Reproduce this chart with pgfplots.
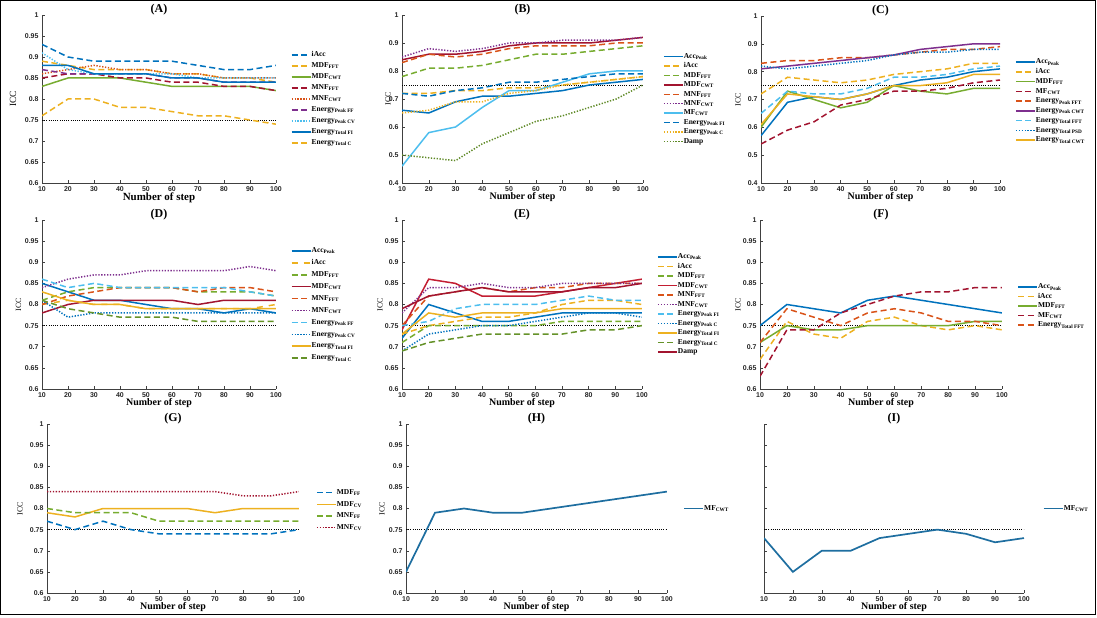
\documentclass[border=0pt]{standalone}
\usepackage{fontspec}
\setmainfont{Liberation Serif}
\setsansfont{Liberation Sans}
\usepackage{pgfplots}
\pgfplotsset{compat=1.18}

\definecolor{mblue}{RGB}{0,114,189}
\definecolor{morange}{RGB}{217,83,25}
\definecolor{myellow}{RGB}{237,177,32}
\definecolor{mpurple}{RGB}{126,47,142}
\definecolor{mgreen}{RGB}{119,172,48}
\definecolor{mcyan}{RGB}{77,190,238}
\definecolor{mdred}{RGB}{162,20,47}
\definecolor{mred}{RGB}{195,30,50}
\definecolor{steel}{RGB}{30,110,160}

\tikzset{
  ds/.style={dash pattern=on 6bp off 3.5bp},
  dt/.style={dash pattern=on 1.3bp off 1.6bp},
}

\pgfplotsset{
  icc/.style={
    scale only axis,
    axis lines=left,
    axis line style={-, draw=black!75, line width=0.5bp},
    tick style={draw=black!75, line width=0.5bp},
    tick align=inside,
    major tick length=2.5bp,
    xmin=10, xmax=100,
    xtick={10,20,30,40,50,60,70,80,90,100},
    /pgf/number format/assume math mode=true,
    ticklabel style={font=\fontsize{7}{8}\sffamily\bfseries, text=black!85},
    xlabel={Number of step},
    xlabel style={font=\fontsize{10}{11}\bfseries, at={(axis description cs:0.5,0)}, anchor=center, yshift=-14.5bp},
    ylabel={ICC},
    ylabel style={font=\fontsize{8}{9}\selectfont, anchor=center},
    title style={font=\fontsize{12}{13}\bfseries, at={(axis description cs:0.5,1)}, anchor=center, yshift=-1bp},
    legend cell align=left,
    legend style={draw=none, fill=none, at={(1.05,0.5)}, anchor=west,
      font=\fontsize{7.5}{8}\bfseries,
      nodes={inner sep=0.3bp, text height=5.5bp, text depth=2bp}},
    legend image code/.code={\draw[##1] (0bp,0bp) -- (19bp,0bp);},
    every axis plot/.append style={line width=1.5bp},
  },
  yA/.style={ymin=0.6, ymax=1, ytick={0.6,0.65,0.7,0.75,0.8,0.85,0.9,0.95,1}},
  yB/.style={ymin=0.4, ymax=1, ytick={0.4,0.5,0.6,0.7,0.8,0.9,1}},
  thr/.style={black, line width=0.9bp, dash pattern=on 1bp off 1.2bp, forget plot},
}

\begin{document}
\begin{tikzpicture}
\useasboundingbox (0,0) rectangle (1097bp,618bp);
\draw[line width=1bp] (0.5bp,3.5bp) rectangle (1095.5bp,617.5bp);

% ---------------- (A)
\begin{axis}[icc, yA, at={(42bp,435bp)}, width=234bp, height=168bp, title={(A)},
  xlabel style={font=\fontsize{11}{12}\bfseries},
  ylabel style={at={(axis description cs:-0.124,0.5)}, font=\fontsize{9.5}{10}\selectfont},
  legend style={row sep=2.9bp}]
\addplot[thr] coordinates {(10,0.75) (100,0.75)};
\addplot[mblue, ds] coordinates {(10,0.93) (20,0.90) (30,0.89) (40,0.89) (50,0.89) (60,0.89) (70,0.88) (80,0.87) (90,0.87) (100,0.88)};
\addlegendentry{iAcc}
\addplot[myellow, ds] coordinates {(10,0.89) (20,0.88) (30,0.87) (40,0.87) (50,0.87) (60,0.86) (70,0.86) (80,0.85) (90,0.85) (100,0.84)};
\addlegendentry{MDF\textsubscript{FFT}}
\addplot[mgreen] coordinates {(10,0.83) (20,0.85) (30,0.85) (40,0.85) (50,0.84) (60,0.83) (70,0.83) (80,0.83) (90,0.83) (100,0.82)};
\addlegendentry{MDF\textsubscript{CWT}}
\addplot[mdred, ds] coordinates {(10,0.85) (20,0.86) (30,0.86) (40,0.85) (50,0.85) (60,0.84) (70,0.84) (80,0.83) (90,0.83) (100,0.82)};
\addlegendentry{MNF\textsubscript{FFT}}
\addplot[morange, dt] coordinates {(10,0.86) (20,0.87) (30,0.88) (40,0.87) (50,0.87) (60,0.86) (70,0.86) (80,0.85) (90,0.85) (100,0.85)};
\addlegendentry{MNF\textsubscript{CWT}}
\addplot[mpurple, ds] coordinates {(10,0.87) (20,0.86) (30,0.86) (40,0.86) (50,0.86) (60,0.85) (70,0.85) (80,0.84) (90,0.84) (100,0.84)};
\addlegendentry{Energy\textsubscript{Peak FF}}
\addplot[mcyan, dt] coordinates {(10,0.91) (20,0.87) (30,0.86) (40,0.86) (50,0.86) (60,0.86) (70,0.85) (80,0.85) (90,0.85) (100,0.85)};
\addlegendentry{Energy\textsubscript{Peak CV}}
\addplot[mblue] coordinates {(10,0.88) (20,0.88) (30,0.86) (40,0.86) (50,0.86) (60,0.85) (70,0.85) (80,0.84) (90,0.84) (100,0.84)};
\addlegendentry{Energy\textsubscript{Total FI}}
\addplot[myellow, ds] coordinates {(10,0.76) (20,0.80) (30,0.80) (40,0.78) (50,0.78) (60,0.77) (70,0.76) (80,0.76) (90,0.75) (100,0.74)};
\addlegendentry{Energy\textsubscript{Total C}}
\end{axis}

% ---------------- (B)
\begin{axis}[icc, yB, at={(402bp,435bp)}, width=241bp, height=168bp, title={(B)},
  ylabel style={at={(axis description cs:-0.058,0.5)}},
  legend style={at={(1.07,0.5)}, row sep=1.3bp}]
\addplot[thr] coordinates {(10,0.75) (100,0.75)};
\addplot[mblue] coordinates {(10,0.66) (20,0.65) (30,0.69) (40,0.71) (50,0.71) (60,0.72) (70,0.73) (80,0.75) (90,0.76) (100,0.77)};
\addlegendentry{Acc\textsubscript{Peak}}
\addplot[myellow, ds] coordinates {(10,0.72) (20,0.72) (30,0.73) (40,0.73) (50,0.74) (60,0.74) (70,0.75) (80,0.76) (90,0.77) (100,0.78)};
\addlegendentry{iAcc}
\addplot[mgreen, ds] coordinates {(10,0.78) (20,0.81) (30,0.81) (40,0.82) (50,0.84) (60,0.86) (70,0.86) (80,0.87) (90,0.88) (100,0.89)};
\addlegendentry{MDF\textsubscript{FFT}}
\addplot[mdred] coordinates {(10,0.84) (20,0.86) (30,0.86) (40,0.87) (50,0.89) (60,0.90) (70,0.90) (80,0.90) (90,0.91) (100,0.92)};
\addlegendentry{MDF\textsubscript{CWT}}
\addplot[morange, ds] coordinates {(10,0.83) (20,0.86) (30,0.85) (40,0.86) (50,0.88) (60,0.89) (70,0.89) (80,0.89) (90,0.90) (100,0.90)};
\addlegendentry{MNF\textsubscript{FFT}}
\addplot[mpurple, dt] coordinates {(10,0.85) (20,0.88) (30,0.87) (40,0.88) (50,0.90) (60,0.90) (70,0.91) (80,0.91) (90,0.91) (100,0.92)};
\addlegendentry{MNF\textsubscript{CWT}}
\addplot[mcyan] coordinates {(10,0.46) (20,0.58) (30,0.60) (40,0.67) (50,0.73) (60,0.73) (70,0.76) (80,0.79) (90,0.80) (100,0.80)};
\addlegendentry{MF\textsubscript{CWT}}
\addplot[mblue, ds] coordinates {(10,0.72) (20,0.71) (30,0.73) (40,0.74) (50,0.76) (60,0.76) (70,0.77) (80,0.78) (90,0.79) (100,0.79)};
\addlegendentry{Energy\textsubscript{Peak FI}}
\addplot[myellow, dt] coordinates {(10,0.65) (20,0.66) (30,0.69) (40,0.69) (50,0.72) (60,0.73) (70,0.75) (80,0.76) (90,0.77) (100,0.78)};
\addlegendentry{Energy\textsubscript{Peak C}}
\addplot[mgreen!80!black, dt] coordinates {(10,0.50) (20,0.49) (30,0.48) (40,0.54) (50,0.58) (60,0.62) (70,0.64) (80,0.67) (90,0.70) (100,0.75)};
\addlegendentry{Damp}
\end{axis}

% ---------------- (C)
\begin{axis}[icc, yB, at={(761bp,435bp)}, width=239bp, height=167bp, title={(C)},
  ylabel style={at={(axis description cs:-0.096,0.5)}},
  legend style={at={(1.05,0.49)}, row sep=1.65bp}]
\addplot[thr] coordinates {(10,0.75) (100,0.75)};
\addplot[mblue] coordinates {(10,0.57) (20,0.69) (30,0.71) (40,0.70) (50,0.72) (60,0.75) (70,0.77) (80,0.78) (90,0.80) (100,0.81)};
\addlegendentry{Acc\textsubscript{Peak}}
\addplot[myellow, ds] coordinates {(10,0.72) (20,0.78) (30,0.77) (40,0.76) (50,0.77) (60,0.79) (70,0.80) (80,0.81) (90,0.83) (100,0.83)};
\addlegendentry{iAcc}
\addplot[mgreen] coordinates {(10,0.60) (20,0.73) (30,0.70) (40,0.67) (50,0.69) (60,0.75) (70,0.73) (80,0.72) (90,0.74) (100,0.74)};
\addlegendentry{MDF\textsubscript{FFT}}
\addplot[mdred, ds] coordinates {(10,0.54) (20,0.59) (30,0.62) (40,0.68) (50,0.70) (60,0.73) (70,0.73) (80,0.74) (90,0.76) (100,0.77)};
\addlegendentry{MF\textsubscript{CWT}}
\addplot[morange, ds] coordinates {(10,0.83) (20,0.84) (30,0.84) (40,0.85) (50,0.85) (60,0.86) (70,0.87) (80,0.88) (90,0.88) (100,0.89)};
\addlegendentry{Energy\textsubscript{Peak FFT}}
\addplot[mpurple] coordinates {(10,0.81) (20,0.82) (30,0.83) (40,0.84) (50,0.85) (60,0.86) (70,0.88) (80,0.89) (90,0.90) (100,0.90)};
\addlegendentry{Energy\textsubscript{Peak CWT}}
\addplot[mcyan, ds] coordinates {(10,0.65) (20,0.73) (30,0.72) (40,0.72) (50,0.74) (60,0.78) (70,0.78) (80,0.79) (90,0.81) (100,0.82)};
\addlegendentry{Energy\textsubscript{Total FFT}}
\addplot[mblue, dt] coordinates {(10,0.82) (20,0.81) (30,0.82) (40,0.83) (50,0.84) (60,0.86) (70,0.87) (80,0.87) (90,0.88) (100,0.88)};
\addlegendentry{Energy\textsubscript{Total PSD}}
\addplot[myellow] coordinates {(10,0.61) (20,0.72) (30,0.71) (40,0.70) (50,0.72) (60,0.75) (70,0.75) (80,0.76) (90,0.79) (100,0.79)};
\addlegendentry{Energy\textsubscript{Total CWT}}
\end{axis}

% ---------------- (D)
\begin{axis}[icc, yA, at={(42bp,229bp)}, width=234bp, height=169bp, title={(D)},
  ylabel style={at={(axis description cs:-0.10,0.5)}},
  legend style={row sep=3.8bp}]
\addplot[thr] coordinates {(10,0.75) (100,0.75)};
\addplot[mblue] coordinates {(10,0.85) (20,0.83) (30,0.81) (40,0.81) (50,0.80) (60,0.79) (70,0.79) (80,0.78) (90,0.79) (100,0.78)};
\addlegendentry{Acc\textsubscript{Peak}}
\addplot[myellow, dash pattern=on 6bp off 6bp] coordinates {(10,0.80) (20,0.81) (30,0.80) (40,0.80) (50,0.79) (60,0.79) (70,0.79) (80,0.79) (90,0.79) (100,0.80)};
\addlegendentry{iAcc}
\addplot[mgreen, ds] coordinates {(10,0.81) (20,0.83) (30,0.84) (40,0.84) (50,0.84) (60,0.84) (70,0.83) (80,0.83) (90,0.83) (100,0.82)};
\addlegendentry{MDF\textsubscript{FFT}}
\addplot[mdred] coordinates {(10,0.78) (20,0.80) (30,0.81) (40,0.81) (50,0.81) (60,0.81) (70,0.80) (80,0.81) (90,0.81) (100,0.81)};
\addlegendentry{MDF\textsubscript{CWT}}
\addplot[morange, ds] coordinates {(10,0.80) (20,0.82) (30,0.83) (40,0.84) (50,0.84) (60,0.84) (70,0.83) (80,0.84) (90,0.84) (100,0.83)};
\addlegendentry{MNF\textsubscript{FFT}}
\addplot[mpurple, dt] coordinates {(10,0.84) (20,0.86) (30,0.87) (40,0.87) (50,0.88) (60,0.88) (70,0.88) (80,0.88) (90,0.89) (100,0.88)};
\addlegendentry{MNF\textsubscript{CWT}}
\addplot[mcyan, ds] coordinates {(10,0.86) (20,0.84) (30,0.85) (40,0.84) (50,0.84) (60,0.84) (70,0.84) (80,0.84) (90,0.83) (100,0.82)};
\addlegendentry{Energy\textsubscript{Peak FF}}
\addplot[mblue, dt] coordinates {(10,0.81) (20,0.77) (30,0.78) (40,0.78) (50,0.78) (60,0.78) (70,0.78) (80,0.78) (90,0.78) (100,0.78)};
\addlegendentry{Energy\textsubscript{Peak CV}}
\addplot[myellow] coordinates {(10,0.83) (20,0.81) (30,0.80) (40,0.80) (50,0.79) (60,0.79) (70,0.79) (80,0.79) (90,0.79) (100,0.79)};
\addlegendentry{Energy\textsubscript{Total FI}}
\addplot[mgreen!85!black, ds] coordinates {(10,0.81) (20,0.79) (30,0.78) (40,0.77) (50,0.77) (60,0.77) (70,0.76) (80,0.76) (90,0.76) (100,0.76)};
\addlegendentry{Energy\textsubscript{Total C}}
\end{axis}

% ---------------- (E)
\begin{axis}[icc, yA, at={(402bp,229bp)}, width=240bp, height=169bp, title={(E)},
  ylabel style={at={(axis description cs:-0.092,0.5)}},
  legend style={row sep=1.4bp}]
\addplot[thr] coordinates {(10,0.75) (100,0.75)};
\addplot[mblue] coordinates {(10,0.72) (20,0.80) (30,0.78) (40,0.76) (50,0.76) (60,0.77) (70,0.78) (80,0.78) (90,0.78) (100,0.78)};
\addlegendentry{Acc\textsubscript{Peak}}
\addplot[myellow, ds] coordinates {(10,0.73) (20,0.75) (30,0.76) (40,0.77) (50,0.77) (60,0.78) (70,0.80) (80,0.81) (90,0.81) (100,0.80)};
\addlegendentry{iAcc}
\addplot[mgreen, ds] coordinates {(10,0.71) (20,0.75) (30,0.75) (40,0.75) (50,0.75) (60,0.75) (70,0.76) (80,0.76) (90,0.76) (100,0.76)};
\addlegendentry{MDF\textsubscript{FFT}}
\addplot[mred] coordinates {(10,0.74) (20,0.86) (30,0.85) (40,0.82) (50,0.82) (60,0.82) (70,0.83) (80,0.84) (90,0.85) (100,0.86)};
\addlegendentry{MDF\textsubscript{CWT}}
\addplot[morange, ds] coordinates {(10,0.75) (20,0.82) (30,0.83) (40,0.84) (50,0.83) (60,0.84) (70,0.84) (80,0.85) (90,0.85) (100,0.85)};
\addlegendentry{MNF\textsubscript{FFT}}
\addplot[mpurple, dt] coordinates {(10,0.78) (20,0.84) (30,0.84) (40,0.85) (50,0.84) (60,0.84) (70,0.85) (80,0.85) (90,0.85) (100,0.85)};
\addlegendentry{MNF\textsubscript{CWT}}
\addplot[mcyan, ds] coordinates {(10,0.75) (20,0.76) (30,0.79) (40,0.80) (50,0.80) (60,0.80) (70,0.81) (80,0.82) (90,0.81) (100,0.81)};
\addlegendentry{Energy\textsubscript{Peak FI}}
\addplot[mblue, dt] coordinates {(10,0.69) (20,0.73) (30,0.74) (40,0.75) (50,0.75) (60,0.76) (70,0.77) (80,0.78) (90,0.78) (100,0.77)};
\addlegendentry{Energy\textsubscript{Peak C}}
\addplot[myellow] coordinates {(10,0.73) (20,0.78) (30,0.77) (40,0.78) (50,0.78) (60,0.78) (70,0.79) (80,0.79) (90,0.79) (100,0.79)};
\addlegendentry{Energy\textsubscript{Total FI}}
\addplot[mgreen!85!black, ds] coordinates {(10,0.69) (20,0.71) (30,0.72) (40,0.73) (50,0.73) (60,0.73) (70,0.73) (80,0.74) (90,0.74) (100,0.75)};
\addlegendentry{Energy\textsubscript{Total C}}
\addplot[mdred] coordinates {(10,0.79) (20,0.82) (30,0.83) (40,0.84) (50,0.83) (60,0.83) (70,0.83) (80,0.84) (90,0.84) (100,0.85)};
\addlegendentry{Damp}
\end{axis}

% ---------------- (F)
\begin{axis}[icc, yA, at={(760bp,229bp)}, width=242bp, height=169bp, title={(F)},
  ylabel style={at={(axis description cs:-0.091,0.5)}},
  legend style={at={(1.05,0.49)}, row sep=1.4bp}]
\addplot[thr] coordinates {(10,0.75) (100,0.75)};
\addplot[mblue] coordinates {(10,0.75) (20,0.80) (30,0.79) (40,0.78) (50,0.81) (60,0.82) (70,0.81) (80,0.80) (90,0.79) (100,0.78)};
\addlegendentry{Acc\textsubscript{Peak}}
\addplot[myellow, ds] coordinates {(10,0.67) (20,0.76) (30,0.73) (40,0.72) (50,0.76) (60,0.77) (70,0.75) (80,0.74) (90,0.75) (100,0.74)};
\addlegendentry{iAcc}
\addplot[mgreen] coordinates {(10,0.71) (20,0.75) (30,0.74) (40,0.74) (50,0.75) (60,0.75) (70,0.75) (80,0.75) (90,0.76) (100,0.76)};
\addlegendentry{MDF\textsubscript{FFT}}
\addplot[mdred, ds] coordinates {(10,0.63) (20,0.74) (30,0.74) (40,0.78) (50,0.80) (60,0.82) (70,0.83) (80,0.83) (90,0.84) (100,0.84)};
\addlegendentry{MF\textsubscript{CWT}}
\addplot[morange, ds] coordinates {(10,0.71) (20,0.79) (30,0.77) (40,0.75) (50,0.78) (60,0.79) (70,0.78) (80,0.76) (90,0.76) (100,0.75)};
\addlegendentry{Energy\textsubscript{Total FFT}}
\end{axis}

% ---------------- (G)
\begin{axis}[icc, yA, at={(47bp,25bp)}, width=252bp, height=169bp, title={(G)},
  ylabel style={at={(axis description cs:-0.107,0.5)}},
  legend style={at={(1.055,0.49)}, row sep=3.6bp}]
\addplot[thr] coordinates {(10,0.75) (100,0.75)};
\addplot[mblue, ds] coordinates {(10,0.77) (20,0.75) (30,0.77) (40,0.75) (50,0.74) (60,0.74) (70,0.74) (80,0.74) (90,0.74) (100,0.75)};
\addlegendentry{MDF\textsubscript{FF}}
\addplot[myellow] coordinates {(10,0.79) (20,0.78) (30,0.80) (40,0.80) (50,0.80) (60,0.80) (70,0.79) (80,0.80) (90,0.80) (100,0.80)};
\addlegendentry{MDF\textsubscript{CV}}
\addplot[mgreen, ds] coordinates {(10,0.80) (20,0.79) (30,0.79) (40,0.79) (50,0.77) (60,0.77) (70,0.77) (80,0.77) (90,0.77) (100,0.77)};
\addlegendentry{MNF\textsubscript{FF}}
\addplot[mdred, dt] coordinates {(10,0.84) (20,0.84) (30,0.84) (40,0.84) (50,0.84) (60,0.84) (70,0.84) (80,0.83) (90,0.83) (100,0.84)};
\addlegendentry{MNF\textsubscript{CV}}
\end{axis}

% ---------------- (H)
\begin{axis}[icc, yA, at={(406bp,25bp)}, width=261bp, height=169bp, title={(H)},
  ylabel style={at={(axis description cs:-0.092,0.5)}}]
\addplot[thr] coordinates {(10,0.75) (100,0.75)};
\addplot[steel, line width=1.7bp] coordinates {(10,0.65) (20,0.79) (30,0.80) (40,0.79) (50,0.79) (60,0.80) (70,0.81) (80,0.82) (90,0.83) (100,0.84)};
\addlegendentry{MF\textsubscript{CWT}}
\end{axis}

% ---------------- (I)
\begin{axis}[icc, yA, at={(764bp,25bp)}, width=260bp, height=169bp, title={(I)},
  ylabel={}, yticklabels={}, legend style={at={(1.06,0.5)}}]
\addplot[thr] coordinates {(10,0.75) (100,0.75)};
\addplot[steel, line width=1.7bp] coordinates {(10,0.73) (20,0.65) (30,0.70) (40,0.70) (50,0.73) (60,0.74) (70,0.75) (80,0.74) (90,0.72) (100,0.73)};
\addlegendentry{MF\textsubscript{CWT}}
\end{axis}
\end{tikzpicture}
\end{document}
